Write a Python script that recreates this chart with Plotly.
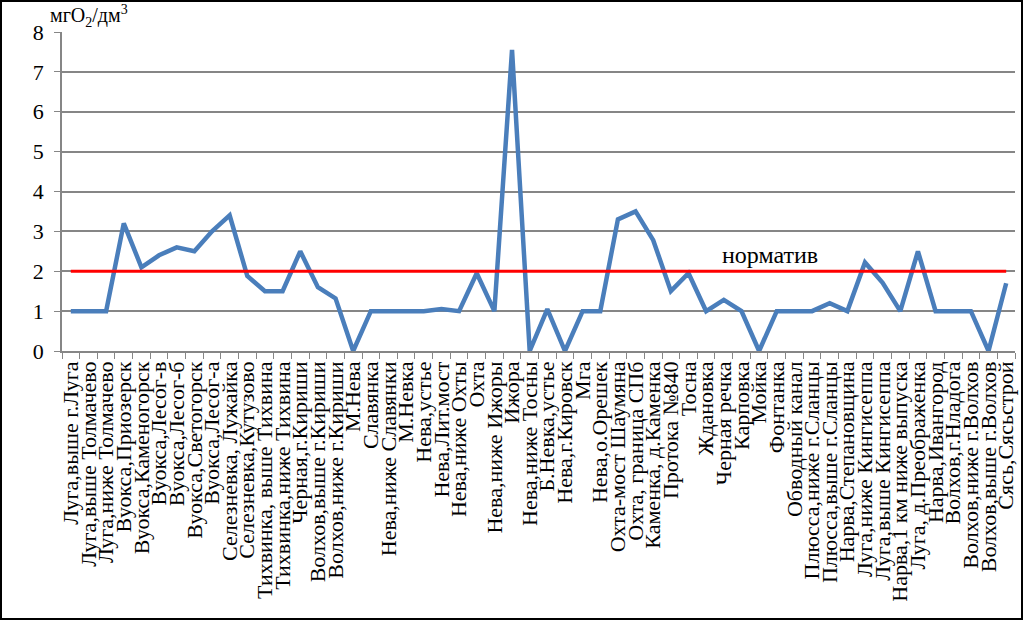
import plotly.graph_objects as go

categories = [
    "Луга,выше г.Луга", "Луга,выше Толмачево", "Луга,ниже Толмачево",
    "Вуокса,Приозерск", "Вуокса,Каменогорск", "Вуокса,Лесог-в", "Вуокса,Лесог-б",
    "Вуокса,Светогорск", "Вуокса,Лесог-а", "Селезневка, Лужайка",
    "Селезневка,Кутузово", "Тихвинка, выше Тихвина", "Тихвинка,ниже Тихвина",
    "Черная,г.Кириши", "Волхов,выше г.Кириши", "Волхов,ниже г.Кириши", "М.Нева",
    "Славянка", "Нева,ниже Славянки", "М.Невка", "Нева,устье", "Нева,Лит.мост",
    "Нева,ниже Охты", "Охта", "Нева,ниже Ижоры", "Ижора", "Нева,ниже Тосны",
    "Б.Невка,устье", "Нева,г.Кировск", "Мга", "Нева,о.Орешек",
    "Охта-мост Шаумяна", "Охта, граница СПб", "Каменка, д.Каменка",
    "Протока №840", "Тосна", "Ждановка", "Черная речка", "Карповка", "Мойка",
    "Фонтанка", "Обводный канал", "Плюсса,ниже г.Сланцы", "Плюсса,выше г.Сланцы",
    "Нарва,Степановщина", "Луга,ниже Кингисеппа", "Луга,выше Кингисеппа",
    "Нарва,1 км ниже выпуска", "Луга, д.Преображенка", "Нарва,Ивангород",
    "Волхов,г.Нладога", "Волхов,ниже г.Волхов", "Волхов,выше г.Волхов",
    "Сясь,Сясьстрой",
]

values = [
    1.0, 1.0, 1.0, 3.2, 2.1, 2.4, 2.6, 2.5, 3.0, 3.4,
    1.88, 1.5, 1.5, 2.5, 1.6, 1.32, 0.0,
    1.0, 1.0, 1.0, 1.0, 1.05, 1.0, 1.95, 1.0, 7.55, 0.0,
    1.05, 0.0, 1.0, 1.0, 3.3, 3.5, 2.78, 1.5, 1.95,
    1.0, 1.28, 1.0, 0.0, 1.0, 1.0, 1.0, 1.2, 1.0,
    2.22, 1.71, 1.0, 2.5, 1.0, 1.0, 1.0, 0.0, 1.7,
]

norm_value = 2
norm_values = [norm_value] * len(categories)

y_ticks = [0, 1, 2, 3, 4, 5, 6, 7, 8]

FONT = "Liberation Serif"
GRAY = "#868686"

fig = go.Figure()
fig.add_trace(go.Scatter(
    x=categories, y=values, mode="lines",
    line=dict(color="#4A7EBB", width=4.5),
    showlegend=False,
))
fig.add_trace(go.Scatter(
    x=categories, y=norm_values, mode="lines",
    line=dict(color="#FF0000", width=3),
    showlegend=False,
))

fig.update_layout(
    width=1024, height=620,
    margin=dict(l=62, r=9, t=32, b=269),
    paper_bgcolor="white", plot_bgcolor="white",
    font=dict(family=FONT, color="black", size=18),
    xaxis=dict(
        type="category",
        tickmode="array",
        tickvals=categories,
        ticktext=categories,
        tickangle=-90,
        tickson="boundaries",
        ticks="outside", ticklen=6, tickcolor=GRAY, tickwidth=1,
        showline=True, linecolor=GRAY, linewidth=1.5,
        showgrid=False,
        tickfont=dict(family=FONT, size=22, color="black"),
        range=[-0.5, len(categories) - 0.5],
        automargin=False,
    ),
    yaxis=dict(
        range=[0, 8],
        tickvals=y_ticks,
        ticks="outside", ticklen=6, tickcolor=GRAY, tickwidth=1,
        showline=True, linecolor=GRAY, linewidth=1.5,
        showgrid=True, gridcolor=GRAY, gridwidth=1.5,
        zeroline=False,
        tickfont=dict(family=FONT, size=22, color="black"),
        ticklabelstandoff=6,
        automargin=False,
    ),
    annotations=[
        dict(text="мгO<sub>2</sub>/дм<sup>3</sup>", xref="paper", yref="paper",
             x=-0.015, y=1.0, xanchor="left", yanchor="bottom",
             showarrow=False, font=dict(family=FONT, size=20, color="black")),
        dict(text="норматив", xref="paper", yref="y",
             x=0.743, y=2.42, xanchor="center", yanchor="middle",
             showarrow=False, font=dict(family=FONT, size=24, color="black")),
    ],
    shapes=[
        dict(type="rect", xref="paper", yref="paper",
             x0=-61/953, x1=960/953, y0=-268/319, y1=350/319,
             line=dict(color="black", width=2), fillcolor="rgba(0,0,0,0)",
             layer="above"),
    ],
)

fig.write_html("out.html")
